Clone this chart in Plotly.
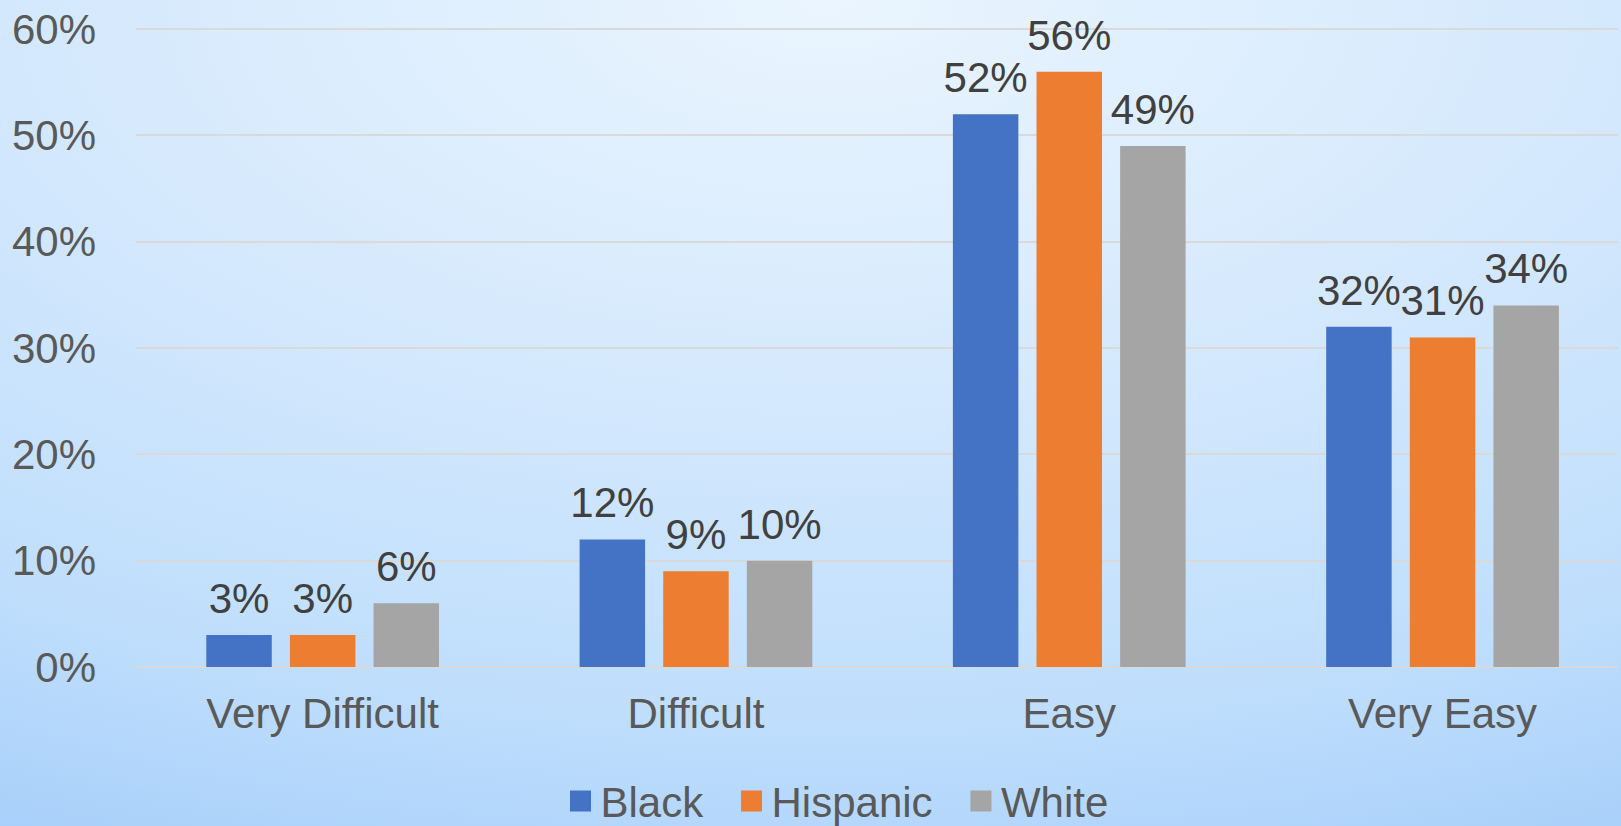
import plotly.graph_objects as go
import urllib.parse

categories = ["Very Difficult", "Difficult", "Easy", "Very Easy"]
black = [3, 12, 52, 32]
hispanic = [3, 9, 56, 31]
white = [6, 10, 49, 34]
series_names = ["Black", "Hispanic", "White"]
series_colors = ["#4472C4", "#ED7D31", "#A5A5A5"]
y_ticks = [0, 10, 20, 30, 40, 50, 60]
y_tick_labels = ["0%", "10%", "20%", "30%", "40%", "50%", "60%"]

W, H = 1621, 826
ML, MR, MT, MB = 136, 3, 27, 159
FONT = "Liberation Sans, Arial, sans-serif"

svg = (
    "<svg xmlns='http://www.w3.org/2000/svg' width='1621' height='826' preserveAspectRatio='none'>"
    "<defs><radialGradient id='g' cx='0.51' cy='0' r='1.12' gradientUnits='objectBoundingBox'>"
    "<stop offset='0' stop-color='#EAF5FE'/>"
    "<stop offset='0.42' stop-color='#D5E9FD'/>"
    "<stop offset='0.78' stop-color='#BFDEFC'/>"
    "<stop offset='1' stop-color='#A9D0FA'/>"
    "</radialGradient></defs>"
    "<rect x='0' y='0' width='1621' height='826' fill='url(#g)'/></svg>"
)
bg_uri = "data:image/svg+xml;charset=utf-8," + urllib.parse.quote(svg)

fig = go.Figure()
all_vals = [black, hispanic, white]
for name, vals, col in zip(series_names, all_vals, series_colors):
    fig.add_trace(go.Bar(
        name=name, x=categories, y=vals, marker_color=col, marker_line_width=0,
        showlegend=False, hoverinfo="skip",
    ))
# data labels, grouped to sit over their bars
for name, vals in zip(series_names, all_vals):
    fig.add_trace(go.Scatter(
        name=name, x=categories, y=vals, mode="markers+text",
        marker=dict(size=17, opacity=0), text=[f"{v}%" for v in vals],
        textposition="top center", cliponaxis=False,
        textfont=dict(size=42, color="#404040", family=FONT),
        showlegend=False, hoverinfo="skip",
    ))
# legend entries
legend_labels = ["Black\u00a0\u00a0", "Hispanic\u00a0\u00a0", "White"]
for name, col in zip(legend_labels, series_colors):
    fig.add_trace(go.Scatter(
        name=name, x=[None], y=[None], mode="markers", xaxis="x2", yaxis="y2",
        marker=dict(symbol="square", size=16, color=col, line=dict(color=col, width=5)),
        showlegend=True,
    ))

pw = W - ML - MR
ph = H - MT - MB
fig.update_layout(
    width=W, height=H,
    margin=dict(l=ML, r=MR, t=MT, b=MB, pad=0),
    paper_bgcolor="rgba(0,0,0,0)", plot_bgcolor="rgba(0,0,0,0)",
    barmode="group", bargap=0.328, bargroupgap=0.217,
    scattermode="group", scattergap=0.328,
    font=dict(family=FONT, size=42, color="#595959"),
    images=[dict(
        source=bg_uri, xref="paper", yref="paper",
        x=-ML / pw, y=1 + MT / ph, sizex=W / pw, sizey=H / ph,
        xanchor="left", yanchor="top", sizing="stretch", layer="below",
    )],
    legend=dict(
        orientation="h", x=0.473, xanchor="center", yref="container", y=0.03,
        yanchor="middle", font=dict(size=42, color="#595959", family=FONT),
        bgcolor="rgba(0,0,0,0)", itemsizing="trace",
    ),
    xaxis=dict(
        range=[-0.5, 3.47],
        showgrid=False, showline=False, zeroline=False,
        tickfont=dict(size=42, color="#595959"), ticks="", ticklabelstandoff=18,
    ),
    yaxis=dict(
        range=[0, 60.2], tickvals=y_ticks, ticktext=y_tick_labels,
        showgrid=True, gridcolor="#D9D9D9", gridwidth=2,
        zeroline=True, zerolinecolor="#D9D9D9", zerolinewidth=2,
        showline=False, ticks="", ticklabelstandoff=39,
        tickfont=dict(size=42, color="#595959"),
    ),
    xaxis2=dict(overlaying="x", visible=False),
    yaxis2=dict(overlaying="y", visible=False),
)

fig.write_html("out.html")
